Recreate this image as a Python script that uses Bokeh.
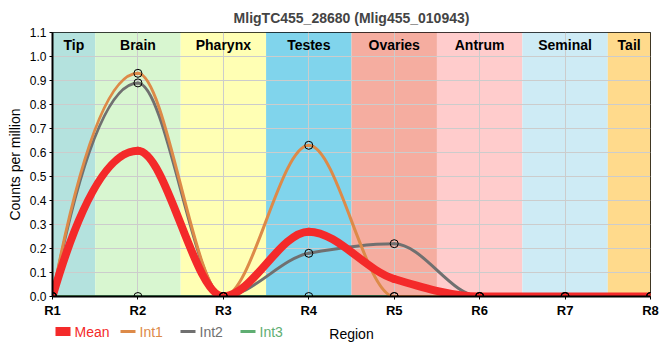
import numpy as np
from bokeh.plotting import figure
from bokeh.layouts import column
from bokeh.models import ColumnDataSource, FixedTicker, Range1d, Label
from bokeh.embed import file_html
from bokeh.resources import INLINE
from bokeh.core.properties import value

# ---------------- data ----------------
regions = ["R1", "R2", "R3", "R4", "R5", "R6", "R7", "R8"]
mean = [0.0, 0.607, 0.0, 0.27, 0.073, 0.0, 0.0, 0.0]
int1 = [0.0, 0.93, 0.0, 0.63, 0.0, 0.0, 0.0, 0.0]
int2 = [0.0, 0.89, 0.0, 0.18, 0.22, 0.0, 0.0, 0.0]
int3 = [0.0, 0.0, 0.0, 0.0, 0.0, 0.0, 0.0, 0.0]

band_names = ["Tip", "Brain", "Pharynx", "Testes", "Ovaries", "Antrum", "Seminal", "Tail"]
band_start = [0.0, 0.5, 1.5, 2.5, 3.5, 4.5, 5.5, 6.5]
band_end = [0.5, 1.5, 2.5, 3.5, 4.5, 5.5, 6.5, 7.0]
band_colors = ["#b4e2de", "#d8f6d0", "#ffffb4", "#80d4ec", "#f5ada0",
               "#ffcccc", "#ceebf5", "#ffda8c"]

y_ticks = [0.0, 0.1, 0.2, 0.3, 0.4, 0.5, 0.6, 0.7, 0.8, 0.9, 1.0, 1.1]

series_names = ["Mean", "Int1", "Int2", "Int3"]
series_colors = ["#f42a2a", "#dd8a48", "#707070", "#5fae72"]
series_widths = [8, 3, 3, 3]

FONT = "Liberation Sans"
W = 660


def pchip_slopes(y):
    y = np.asarray(y, dtype=float)
    d = np.diff(y)
    n = len(y)
    m = np.zeros(n)
    for k in range(1, n - 1):
        if d[k - 1] * d[k] > 0:
            m[k] = 2.0 / (1.0 / d[k - 1] + 1.0 / d[k])
    def end(d0, d1):
        s = (3 * d0 - d1) / 2.0
        if np.sign(s) != np.sign(d0):
            return 0.0
        if np.sign(d0) != np.sign(d1) and abs(s) > 3 * abs(d0):
            return 3 * d0
        return s
    m[0] = end(d[0], d[1])
    m[-1] = end(d[-1], d[-2])
    return m


def bezier_source(y):
    y = np.asarray(y, dtype=float)
    m = pchip_slopes(y)
    xs = np.arange(len(y), dtype=float)
    return ColumnDataSource(dict(
        x0=xs[:-1], y0=y[:-1], x1=xs[1:], y1=y[1:],
        cx0=xs[:-1] + 1 / 3, cy0=y[:-1] + m[:-1] / 3,
        cx1=xs[1:] - 1 / 3, cy1=y[1:] - m[1:] / 3,
    ))


p = figure(width=W, height=320, output_backend="svg", toolbar_location=None,
           x_range=Range1d(0, 7), y_range=Range1d(0, 1.1),
           min_border_left=52, min_border_right=10, min_border_top=30, min_border_bottom=20)

p.title.text = "MligTC455_28680 (Mlig455_010943)"
p.title.align = "center"
p.title.text_font = FONT
p.title.text_font_size = "14px"
p.title.text_font_style = "bold"
p.title.offset = -28
p.title.standoff = 14

# bands
bands = ColumnDataSource(dict(left=band_start, right=band_end,
                              color=band_colors, name=band_names,
                              cx=[(a + b) / 2 for a, b in zip(band_start, band_end)],
                              top=[1.1] * len(band_names)))
p.quad(left="left", right="right", bottom=0, top=1.1, fill_color="color",
       line_color=None, source=bands, level="image")
p.text(x="cx", y="top", text="name", source=bands, text_align="center",
       text_baseline="top", y_offset=4, text_font=value(FONT),
       text_font_size="14px", text_font_style="bold", text_color="black")

# grid
p.xgrid.ticker = FixedTicker(ticks=list(range(len(regions))))
p.ygrid.ticker = FixedTicker(ticks=y_ticks)
for g in (p.xgrid, p.ygrid):
    g.grid_line_color = "#cccccc"
    g.grid_line_width = 1

# curves (drawn back to front: Int3, Int2, Int1, Mean)
all_vals = [mean, int1, int2, int3]
for k in [3, 2, 1, 0]:
    src = bezier_source(all_vals[k])
    p.bezier(x0="x0", y0="y0", x1="x1", y1="y1", cx0="cx0", cy0="cy0",
             cx1="cx1", cy1="cy1", source=src, line_color=series_colors[k],
             line_width=series_widths[k], line_cap="round")

xs = list(range(len(regions)))
for vals in (int1, int2, int3):
    p.scatter(x=xs, y=vals, marker="circle", size=8, fill_alpha=0,
              line_color="black", line_width=1)

# axes
p.xaxis.ticker = FixedTicker(ticks=xs)
p.xaxis.major_label_overrides = {i: r for i, r in enumerate(regions)}
p.yaxis.ticker = FixedTicker(ticks=y_ticks)
p.yaxis.major_label_overrides = {t: f"{t:.1f}" for t in y_ticks}
p.yaxis.axis_label = "Counts per million"
for ax in (p.xaxis, p.yaxis):
    ax.axis_line_color = "black"
    ax.axis_line_width = 2
    ax.major_tick_line_color = "black"
    ax.major_tick_in = 0
    ax.major_tick_out = 3
    ax.minor_tick_line_color = None
    ax.major_label_standoff = 3
    ax.major_label_text_font = FONT
    ax.major_label_text_color = "black"
    ax.axis_label_text_font = FONT
    ax.axis_label_text_font_style = "normal"
    ax.axis_label_text_color = "black"
p.xaxis.major_label_text_font_size = "13px"
p.xaxis.major_label_text_font_style = "bold"
p.yaxis.major_label_text_font_size = "12px"
p.yaxis.axis_label_text_font_size = "14px"
p.yaxis.axis_label_standoff = 4

p.outline_line_color = "black"
p.outline_line_width = 1

# ---------------- legend row (with the x-axis title) ----------------
# q's frame is aligned with p's frame; its x units are pixels from the frame's left edge
q = figure(width=W, height=24, output_backend="svg", toolbar_location=None,
           x_range=Range1d(0, 598), y_range=Range1d(0, 24),
           x_axis_type=None, y_axis_type=None,
           min_border_left=52, min_border_right=10, min_border_top=0, min_border_bottom=0)
q.grid.visible = False
q.outline_line_color = None

swatch_left = [3, 68, 128, 188]   # legend layout (pixels)
SW = 15
row_y = 13
leg = ColumnDataSource(dict(
    x0=swatch_left, x1=[s + SW for s in swatch_left],
    tx=[s + SW + 4 for s in swatch_left],
    y=[row_y] * 4, name=series_names, color=series_colors,
    w=[9, 3, 3, 3]))
q.segment(x0="x0", y0="y", x1="x1", y1="y", line_color="color",
          line_width="w", source=leg)
q.text(x="tx", y="y", text="name", text_color="color", source=leg,
       text_baseline="middle", text_font=value(FONT), text_font_size="14px")

q.add_layout(Label(x=299, y=11, text="Region", text_align="center",
                   text_baseline="middle", text_font=FONT,
                   text_font_size="14px", text_color="black"))

layout = column(p, q, spacing=0)
open("out.html", "w").write(file_html(layout, INLINE))
